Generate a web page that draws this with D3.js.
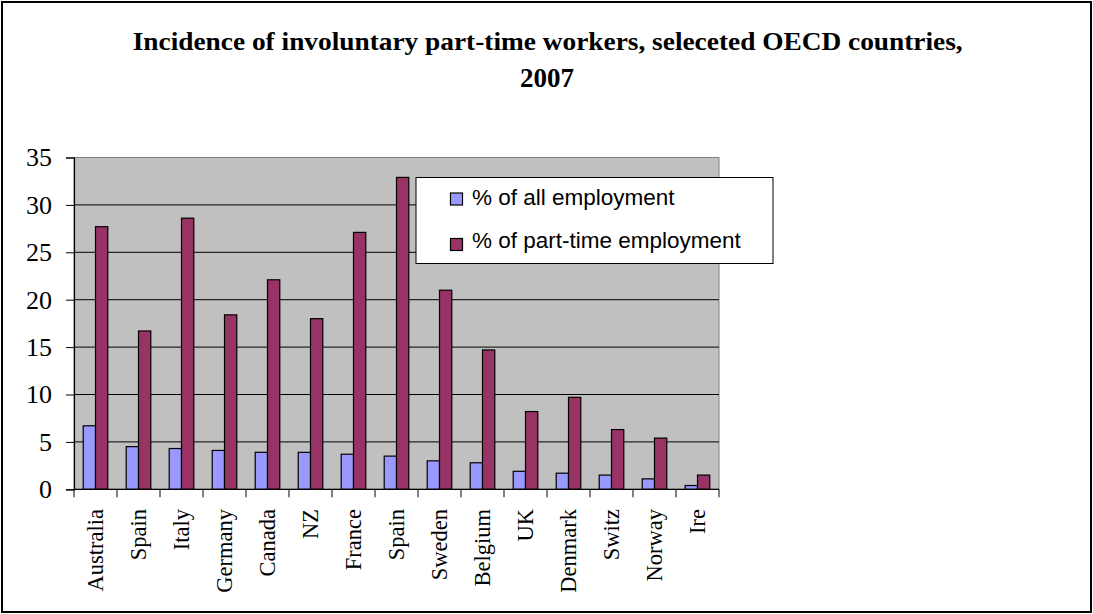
<!DOCTYPE html>
<html><head><meta charset="utf-8">
<script src="https://cdn.jsdelivr.net/npm/d3@7"></script>
<style>body{margin:0;background:#fff}svg{display:block}</style>
</head><body>
<svg id="c" width="1093" height="614"></svg>
<script>
const categories = ["Australia","Spain","Italy","Germany","Canada","NZ","France","Spain","Sweden","Belgium","UK","Denmark","Switz","Norway","Ire"];
const allEmployment = [6.7,4.5,4.3,4.1,3.9,3.9,3.7,3.5,3.0,2.8,1.9,1.7,1.5,1.1,0.4];
const partTimeEmployment = [27.7,16.7,28.6,18.4,22.1,18.0,27.1,32.9,21.0,14.7,8.2,9.7,6.3,5.4,1.5];
const seriesNames = ["% of all employment","% of part-time employment"];
const seriesColors = ["#9999FF","#993366"];
const yTicks = [0,5,10,15,20,25,30,35];
const titleLines = ["Incidence of involuntary part-time workers, seleceted OECD countries,","2007"];

const svg = d3.select("#c");
const L = 74, R = 719, T = 157.5, B = 489.3;

// outer border
svg.append("rect").attr("x",2).attr("y",2).attr("width",1089).attr("height",610)
  .attr("fill","#fff").attr("stroke","#000").attr("stroke-width",2);

// title
svg.append("text").attr("x",547.7).attr("y",50).attr("text-anchor","middle")
  .attr("font-family","Liberation Serif, Times New Roman, serif").attr("font-weight","bold")
  .attr("font-size",26).attr("textLength",830).attr("lengthAdjust","spacingAndGlyphs")
  .text(titleLines[0]);
svg.append("text").attr("x",547).attr("y",87.3).attr("text-anchor","middle")
  .attr("font-family","Liberation Serif, Times New Roman, serif").attr("font-weight","bold")
  .attr("font-size",27).text(titleLines[1]);

const idx = categories.map((d,i)=>i);
const x0 = d3.scaleBand().domain(idx).range([L,R]).padding(0);
const x1 = d3.scaleBand().domain([0,1]).range([0,x0.bandwidth()]).paddingInner(0).paddingOuter(0.75);
const y = d3.scaleLinear().domain([0,35]).range([B,T]);

// plot area
svg.append("rect").attr("x",L).attr("y",T).attr("width",R-L).attr("height",B-T)
  .attr("fill","#C0C0C0").attr("stroke","#808080").attr("stroke-width",1);

// gridlines
svg.append("g").selectAll("line").data(yTicks.filter(t=>t>0 && t<35)).join("line")
  .attr("x1",L).attr("x2",R).attr("y1",d=>y(d)).attr("y2",d=>y(d))
  .attr("stroke","#000").attr("stroke-width",1);

// bars
const series = [allEmployment, partTimeEmployment];
series.forEach((vals,s)=>{
  svg.append("g").selectAll("rect").data(vals).join("rect")
    .attr("x",(d,i)=>x0(i)+x1(s))
    .attr("y",d=>y(d))
    .attr("width",x1.bandwidth())
    .attr("height",d=>B-y(d))
    .attr("fill",seriesColors[s]).attr("stroke","#000").attr("stroke-width",1.2);
});

// y axis
const yAxis = d3.axisLeft(y).tickValues(yTicks).tickSize(8).tickPadding(14).tickFormat(d3.format("d"));
const ya = svg.append("g").attr("transform",`translate(${L},0)`).call(yAxis);
ya.select(".domain").attr("stroke","#000").attr("stroke-width",1.2);
ya.selectAll(".tick line").attr("stroke","#000");
ya.selectAll("text").attr("font-family","Liberation Serif, Times New Roman, serif").attr("font-size",26).attr("fill","#000");

// x axis
const xa = svg.append("g").attr("transform",`translate(0,${B})`);
xa.append("line").attr("x1",L).attr("x2",R).attr("stroke","#000").attr("stroke-width",1.2);
const bounds = idx.concat([idx.length]);
xa.selectAll("line.tk").data(bounds).join("line").attr("class","tk")
  .attr("x1",d=> d<idx.length ? x0(d) : R).attr("x2",d=> d<idx.length ? x0(d) : R)
  .attr("y1",0).attr("y2",8).attr("stroke","#000");
xa.selectAll("text").data(categories).join("text")
  .attr("transform",(d,i)=>`translate(${x0(i)+x0.bandwidth()/2},${509-B}) rotate(-90)`)
  .attr("text-anchor","end").attr("dy","0.35em")
  .attr("font-family","Liberation Serif, Times New Roman, serif").attr("font-size",22.5).attr("fill","#000")
  .text(d=>d);

// legend
const lg = svg.append("g");
lg.append("rect").attr("x",416).attr("y",177.5).attr("width",357).attr("height",86)
  .attr("fill","#fff").attr("stroke","#000").attr("stroke-width",1);
seriesNames.forEach((n,i)=>{
  const cy = 199 + i*45.5;
  lg.append("rect").attr("x",450.5).attr("y",cy-6).attr("width",12).attr("height",12)
    .attr("fill",seriesColors[i]).attr("stroke","#000").attr("stroke-width",1.2);
  lg.append("text").attr("x",472).attr("y",205 + i*43)
    .attr("font-family","Liberation Sans, Arial, sans-serif").attr("font-size",22.5).attr("fill","#000")
    .text(n);
});
</script>
</body></html>
